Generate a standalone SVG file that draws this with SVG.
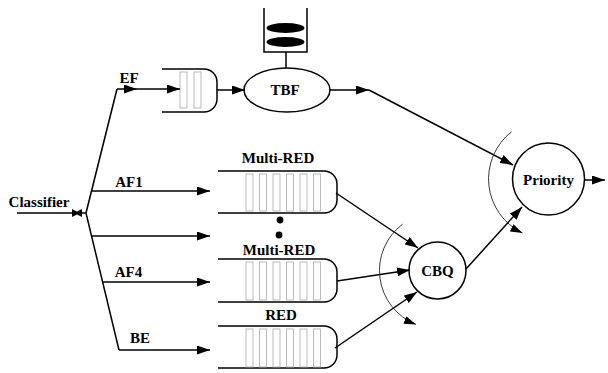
<svg xmlns="http://www.w3.org/2000/svg" width="608" height="373" viewBox="0 0 608 373">
  <style>
    .ln { stroke: #000; stroke-width: 1.5; fill: none; }
    .arc { stroke: #222; stroke-width: 0.9; fill: none; }
    .q { stroke: #000; stroke-width: 1.5; fill: #fff; }
    .cell { stroke: #aaa; stroke-width: 0.8; fill: none; }
    .node { stroke: #000; stroke-width: 1.5; fill: #fff; }
    text { font-weight: bold; font-size: 15px; text-anchor: middle; fill: #000; }
  </style>
  <defs>
    <marker id="arr" markerUnits="userSpaceOnUse" markerWidth="14" markerHeight="9" refX="13" refY="4.5" orient="auto">
      <path d="M0,0 L13,4.5 L0,9 z" fill="#000"/>
    </marker>
    <marker id="arrs" markerUnits="userSpaceOnUse" markerWidth="13" markerHeight="8" refX="12" refY="4" orient="auto">
      <path d="M0,0 L12,4 L0,8 z" fill="#000"/>
    </marker>
  </defs>

  <rect width="608" height="373" fill="#fff"/>

  <g font-family="'Liberation Serif', 'Times New Roman', 'DejaVu Serif', serif">
    <!-- EF queue -->
    <g id="q-ef">
      <path class="q" d="M162,69 H204 A13,13 0 0 1 217,82 V99 A13,13 0 0 1 204,112 H162"/>
      <rect class="cell" x="180" y="72" width="7" height="36"/>
      <rect class="cell" x="194" y="72" width="7" height="36"/>
    </g>

    <!-- token bucket filter -->
    <g id="tbf">
      <path class="ln" d="M264,8 V52 H307 V8"/>
      <ellipse cx="285.5" cy="28" rx="19" ry="5" fill="#000"/>
      <ellipse cx="285.5" cy="42" rx="19" ry="5" fill="#000"/>
      <line class="ln" x1="286" y1="52" x2="286" y2="68"/>
      <ellipse class="node" cx="287" cy="90" rx="43" ry="22"/>
      <text x="285" y="95">TBF</text>
    </g>

    <!-- AF1 queue -->
    <g id="q-af1">
      <text x="278" y="163">Multi-RED</text>
      <path class="q" d="M218,171 H324 A13,13 0 0 1 337,184 V200 A13,13 0 0 1 324,213 H218"/>
      <rect class="cell" x="246" y="174" width="7" height="37"/>
      <rect class="cell" x="259.5" y="174" width="7" height="37"/>
      <rect class="cell" x="273" y="174" width="7" height="37"/>
      <rect class="cell" x="286.5" y="174" width="7" height="37"/>
      <rect class="cell" x="300" y="174" width="7" height="37"/>
      <rect class="cell" x="313.5" y="174" width="7" height="37"/>
    </g>

    <!-- ellipsis dots -->
    <g id="dots">
      <circle cx="280" cy="220" r="3.4" fill="#000"/>
      <circle cx="279" cy="235" r="3.4" fill="#000"/>
    </g>

    <!-- AF4 queue -->
    <g id="q-af4">
      <text x="279" y="255">Multi-RED</text>
      <path class="q" d="M218,259 H324 A13,13 0 0 1 337,272 V289 A13,13 0 0 1 324,302 H218"/>
      <rect class="cell" x="246" y="262" width="7" height="38"/>
      <rect class="cell" x="259.5" y="262" width="7" height="38"/>
      <rect class="cell" x="273" y="262" width="7" height="38"/>
      <rect class="cell" x="286.5" y="262" width="7" height="38"/>
      <rect class="cell" x="300" y="262" width="7" height="38"/>
      <rect class="cell" x="313.5" y="262" width="7" height="38"/>
    </g>

    <!-- BE queue -->
    <g id="q-be">
      <text x="281" y="320">RED</text>
      <path class="q" d="M218,326 H324 A13,13 0 0 1 337,339 V355 A13,13 0 0 1 324,368 H218"/>
      <rect class="cell" x="246" y="329" width="7" height="38"/>
      <rect class="cell" x="259.5" y="329" width="7" height="38"/>
      <rect class="cell" x="273" y="329" width="7" height="38"/>
      <rect class="cell" x="286.5" y="329" width="7" height="38"/>
      <rect class="cell" x="300" y="329" width="7" height="38"/>
      <rect class="cell" x="313.5" y="329" width="7" height="38"/>
    </g>

    <!-- CBQ scheduler -->
    <g id="cbq">
      <circle class="node" cx="437.5" cy="270.5" r="28.5"/>
      <text x="437.5" y="276">CBQ</text>
    </g>

    <!-- priority scheduler -->
    <g id="priority">
      <circle class="node" cx="548.5" cy="179" r="36"/>
      <text x="548.5" y="185">Priority</text>
    </g>

    <!-- classifier -->
    <g id="classifier">
      <text x="39" y="207">Classifier</text>
      <polygon points="72,209 77,211.5 82,209 82,217 77,214.5 72,217" fill="#000"/>
    </g>

    <!-- class labels -->
    <g id="labels">
      <text x="129" y="83">EF</text>
      <text x="129" y="187">AF1</text>
      <text x="128.5" y="277">AF4</text>
      <text x="140" y="343">BE</text>
    </g>

    <!-- connectors -->
    <g id="connectors">
      <line class="ln" x1="17" y1="213" x2="86" y2="213"/>
      <polyline class="ln" points="86,213 117,89"/>
      <polyline class="ln" points="86,213 119,350"/>
      <line class="ln" x1="117" y1="89" x2="137" y2="89" marker-end="url(#arr)"/>
      <line class="ln" x1="137" y1="89" x2="180" y2="89" marker-end="url(#arr)"/>
      <line class="ln" x1="217" y1="90" x2="245" y2="90" marker-end="url(#arr)"/>
      <line class="ln" x1="330" y1="90" x2="369" y2="90" marker-end="url(#arr)"/>
      <line class="ln" x1="369" y1="90" x2="513" y2="165" marker-end="url(#arr)"/>
      <line class="ln" x1="92" y1="191" x2="210" y2="191" marker-end="url(#arr)"/>
      <line class="ln" x1="91.5" y1="236" x2="210" y2="236" marker-end="url(#arr)"/>
      <line class="ln" x1="102.6" y1="282" x2="210" y2="282" marker-end="url(#arr)"/>
      <line class="ln" x1="119" y1="350" x2="210" y2="350" marker-end="url(#arr)"/>
      <line class="ln" x1="336" y1="193" x2="418" y2="248" marker-end="url(#arr)"/>
      <line class="ln" x1="337" y1="281" x2="410" y2="270" marker-end="url(#arr)"/>
      <line class="ln" x1="335" y1="348" x2="417" y2="292" marker-end="url(#arr)"/>
      <line class="ln" x1="466" y1="269" x2="522" y2="207" marker-end="url(#arr)"/>
      <line class="ln" x1="585" y1="180" x2="605" y2="180" marker-end="url(#arr)"/>
      <path class="arc" d="M402.7,224.1 A58,58 0 0 0 416,324.4" marker-end="url(#arrs)"/>
      <path class="arc" d="M511.7,131.6 A60,60 0 0 0 522.5,233" marker-end="url(#arrs)"/>
    </g>
  </g>
</svg>
